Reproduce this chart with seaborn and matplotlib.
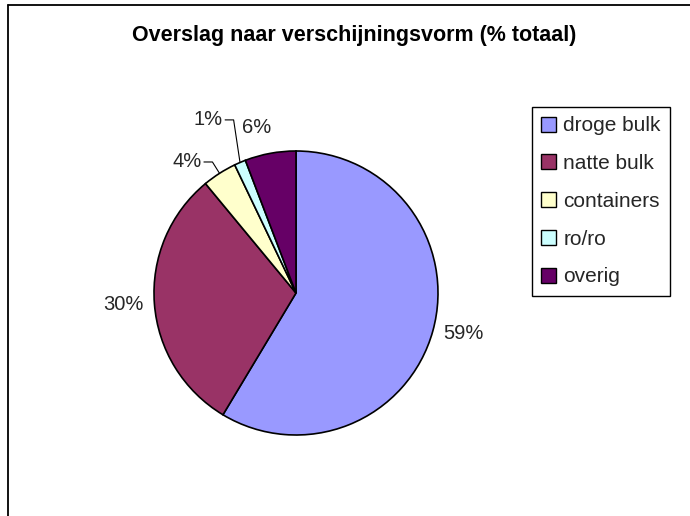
"""
Overslag naar verschijningsvorm - pie chart in old Excel style
"""

import numpy as np
import matplotlib
matplotlib.use('Agg')
import matplotlib.pyplot as plt
from matplotlib.lines import Line2D
import seaborn as sns

# Data (% of total)
categories = ['droge bulk', 'natte bulk', 'containers', 'ro/ro', 'overig']
shares = [58.6, 30.4, 3.9, 1.3, 5.8]
colors = ['#9999FF', '#993366', '#FFFFCC', '#CCFFFF', '#660066']
title = 'Overslag naar verschijningsvorm (% totaal)'

sns.set_theme(style='white')
plt.rcParams['font.family'] = ['Liberation Sans', 'DejaVu Sans']

W, H = 690, 516
fig = plt.figure(figsize=(W / 100, H / 100), dpi=100)

# chart-area frame (left and top edge visible)
fig.add_artist(Line2D([8 / W, 8 / W], [-0.1, 1 - 5 / H], transform=fig.transFigure,
                      color='black', linewidth=1.3))
fig.add_artist(Line2D([8 / W, 1.1], [1 - 5 / H, 1 - 5 / H], transform=fig.transFigure,
                      color='black', linewidth=1.3))

fig.text(354 / W, 1 - 35 / H, title, ha='center', va='center',
         fontsize=15.5, fontweight='bold', color='black')

# pie axes placed in pixels
cx, cy, R = 296, 293, 142
ax = fig.add_axes([(cx - R) / W, (H - cy - R) / H, 2 * R / W, 2 * R / H])
wedges, _ = ax.pie(shares, colors=colors, startangle=90, counterclock=False, radius=1,
                   wedgeprops=dict(edgecolor='black', linewidth=1.2))
ax.set_xlim(-1, 1)
ax.set_ylim(-1, 1)
ax.set_aspect('equal')
ax.axis('off')

# small slices get a leader line: elbow offset from the arc (data units)
leaders = {'containers': (-0.05, 0.08), 'ro/ro': (-0.045, 0.30)}
label_font = 14.5

for w, cat, share in zip(wedges, categories, shares):
    mid = np.deg2rad((w.theta1 + w.theta2) / 2)
    c, s = np.cos(mid), np.sin(mid)
    txt = f'{share:.0f}%'
    if cat in leaders:
        dx, dy = leaders[cat]
        x0, y0 = c, s
        x1, y1 = x0 + dx, y0 + dy
        x2 = x1 - 0.06
        ax.add_line(Line2D([x0, x1, x2], [y0, y1, y1], color='black', linewidth=0.8,
                           clip_on=False))
        ax.text(x2 - 0.015, y1, txt, ha='right', va='center', fontsize=label_font)
    elif abs(s) > 0.9:
        r = 1.12
        ax.text(r * c + 0.03, r * s, txt, ha='right' if c < 0 else 'left',
                va='bottom' if s > 0 else 'top', fontsize=label_font)
    else:
        r = 1.075
        ax.text(r * c, r * s, txt, ha='left' if c > 0 else 'right', va='center',
                fontsize=label_font)

leg = fig.legend(wedges, categories, loc='upper left',
                 bbox_to_anchor=(532 / W, 1 - 107 / H), bbox_transform=fig.transFigure,
                 fontsize=15, frameon=True, fancybox=False, shadow=False,
                 framealpha=1, edgecolor='black', borderpad=0.45, borderaxespad=0,
                 handlelength=0.72, handleheight=0.72, handletextpad=0.33,
                 labelspacing=0.9)
leg.get_frame().set_linewidth(1.0)
for h in leg.legend_handles:
    h.set_edgecolor('black')
    h.set_linewidth(1.0)

plt.savefig('out.png', dpi=100)
